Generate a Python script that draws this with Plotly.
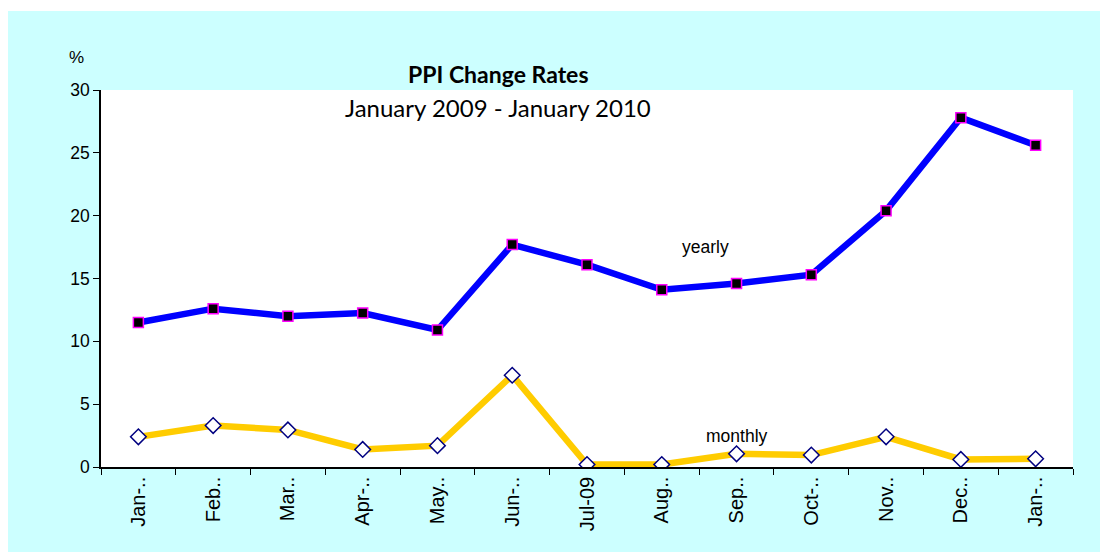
import plotly.graph_objects as go

months = ["Jan-09", "Feb-09", "Mar-09", "Apr-09", "May-09", "Jun-09", "Jul-09",
          "Aug-09", "Sep-09", "Oct-09", "Nov-09", "Dec-09", "Jan-10"]
tick_labels = ["Jan-..", "Feb..", "Mar..", "Apr-..", "May..", "Jun-..", "Jul-09",
               "Aug..", "Sep..", "Oct-..", "Nov..", "Dec..", "Jan-.."]
yearly = [11.5, 12.6, 12.0, 12.25, 10.9, 17.7, 16.1, 14.1, 14.6, 15.3, 20.4, 27.8, 25.6]
monthly = [2.4, 3.3, 2.95, 1.4, 1.7, 7.3, 0.2, 0.2, 1.05, 0.95, 2.4, 0.6, 0.65]
y_ticks = [0, 5, 10, 15, 20, 25, 30]

# page body has an 8px margin; compensate so the plot lands where the reference has it
OFF = 8
WIN_W, WIN_H = 1108, 552
W, H = WIN_W - OFF, WIN_H - OFF
PL, PR, PT, PB = 101, 1073, 90, 467   # plot area in window pixels
L, R, T, B = PL - OFF, WIN_W - PR, PT - OFF, WIN_H - PB
pw, ph = PR - PL, PB - PT

def px(x):
    return (x - PL) / pw

def py(y):
    return (PB - y) / ph

fig = go.Figure()
fig.add_trace(go.Scatter(
    x=months, y=yearly, mode="lines+markers", name="yearly",
    line=dict(color="#0000FF", width=6.5),
    marker=dict(symbol="square", size=10, color="#000000",
                line=dict(color="#FF00FF", width=1.5)),
))
fig.add_trace(go.Scatter(
    x=months, y=monthly, mode="lines+markers", name="monthly",
    line=dict(color="#FFCC00", width=6.5),
    marker=dict(symbol="diamond", size=12, color="#FFFFFF",
                line=dict(color="#000080", width=1.5)),
))

arial = "Liberation Sans, Arial"
fig.update_layout(
    width=W, height=H,
    margin=dict(l=L, r=R, t=T, b=B, autoexpand=False),
    paper_bgcolor="#FFFFFF",
    plot_bgcolor="#FFFFFF",
    showlegend=False,
    font=dict(family=arial, size=17, color="#000000"),
    shapes=[
        dict(type="rect", xref="paper", yref="paper", layer="below",
             x0=px(6), x1=px(WIN_W + 5), y0=py(WIN_H + 5), y1=py(11),
             fillcolor="#CCFFFF", line=dict(width=0)),
        dict(type="rect", xref="paper", yref="paper", layer="below",
             x0=0, x1=1, y0=0, y1=1,
             fillcolor="#FFFFFF", line=dict(width=0)),
    ],
    annotations=[
        dict(text="<b>PPI Change Rates</b>", xref="paper", yref="paper",
             x=px(498), y=py(74), xanchor="center", yanchor="middle",
             showarrow=False,
             font=dict(family="Lato, Open Sans", size=23, color="#000000")),
        dict(text="January 2009 - January 2010", xref="paper", yref="paper",
             x=px(498), y=py(107), xanchor="center", yanchor="middle",
             showarrow=False,
             font=dict(family="Lato, Open Sans", size=24, color="#000000")),
        dict(text="%", xref="paper", yref="paper", x=px(76), y=py(57),
             xanchor="center", yanchor="middle",
             showarrow=False, font=dict(size=17)),
        dict(text="yearly", x=7.58, y=17.5, xref="x", yref="y", showarrow=False,
             xanchor="center", yanchor="middle", font=dict(size=17.5)),
        dict(text="monthly", x=8.0, y=2.45, xref="x", yref="y", showarrow=False,
             xanchor="center", yanchor="middle", font=dict(size=17.5)),
    ],
)
fig.update_xaxes(
    type="category", categoryorder="array", categoryarray=months,
    tickvals=months, ticktext=tick_labels, tickangle=-90,
    tickson="boundaries", ticks="outside", ticklen=6, tickcolor="#000000",
    showline=True, linecolor="#000000", linewidth=1.5, showgrid=False,
    range=[-0.5, 12.5], tickfont=dict(size=20), automargin=False,
)
fig.update_yaxes(
    range=[0, 30], tickvals=y_ticks, ticks="outside", ticklen=6,
    tickcolor="#000000", showline=True, linecolor="#000000", linewidth=1.5,
    showgrid=False, zeroline=False, tickfont=dict(size=17.5), automargin=False,
)
fig.write_html("out.html")
